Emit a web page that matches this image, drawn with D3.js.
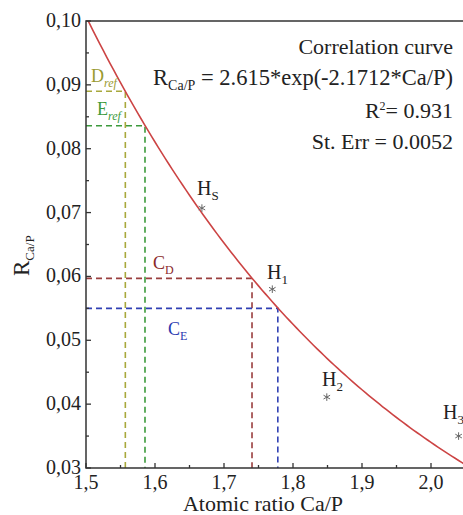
<!DOCTYPE html>
<html><head><meta charset="utf-8">
<script src="https://cdn.jsdelivr.net/npm/d3@7"></script>
<style>body{margin:0;background:#fff}svg{display:block}</style>
</head><body><svg id="c" width="463" height="515" font-family="'Liberation Serif', 'DejaVu Serif', serif"></svg>
<script>
// Fit parameters
const fitA = 2.615, fitB = -2.1712;
// Sample points
const sampleNames = ["S", "1", "2", "3"];
const sampleX = [1.668, 1.770, 1.849, 2.040];
const sampleY = [0.0707, 0.0580, 0.0411, 0.0350];
// Reference lines (Ca/P, R)
const refMain = ["D", "E", "C", "C"];
const refSubs = ["ref", "ref", "D", "E"];
const refX = [1.557, 1.5855, 1.7406, 1.778];
const refY = [0.0890, 0.0836, 0.0597, 0.0550];
const refColors = ["#a8a83c", "#3c9a3c", "#9a3f3f", "#3040b4"];
// Ticks
const xTicks = [1.5, 1.6, 1.7, 1.8, 1.9, 2.0];
const xTickLabels = ["1,5", "1,6", "1,7", "1,8", "1,9", "2,0"];
const yTicks = [0.03, 0.04, 0.05, 0.06, 0.07, 0.08, 0.09, 0.10];
const yTickLabels = ["0,03", "0,04", "0,05", "0,06", "0,07", "0,08", "0,09", "0,10"];

const svg = d3.select("#c");
const L = 86, T = 21, B = 468;
const x = d3.scaleLinear().domain([1.5, 2.06]).range([L, L + 0.56 * 690]);
const y = d3.scaleLinear().domain([0.03, 0.10]).range([B, T]);
const R = x(2.06);

svg.append("clipPath").attr("id", "clip").append("rect").attr("x", L).attr("y", T).attr("width", R - L).attr("height", B - T);

// dashed reference lines
const gRef = svg.append("g").attr("clip-path", "url(#clip)");
refX.forEach((rx, i) => {
  gRef.append("path").attr("d", `M${x(1.5)},${y(refY[i])}H${x(rx)}V${y(0.03)}`)
    .attr("fill", "none").attr("stroke", refColors[i]).attr("stroke-width", 1.6).attr("stroke-dasharray", "6,4");
});

// curve
const xs = d3.range(1.5, 2.0601, 0.005);
svg.append("path").attr("clip-path", "url(#clip)")
  .datum(xs.map(v => [v, fitA * Math.exp(fitB * v)]))
  .attr("d", d3.line().x(d => x(d[0])).y(d => y(d[1])))
  .attr("fill", "none").attr("stroke", "#cc4444").attr("stroke-width", 1.6);

// axes frame
svg.append("path").attr("d", `M${R},${T}H${L}V${B}H${R}`).attr("fill", "none").attr("stroke", "#333").attr("stroke-width", 1.5);

// x ticks
const xMinor = d3.range(1.55, 2.06, 0.1);
const gx = svg.append("g");
xTicks.forEach(v => gx.append("line").attr("x1", x(v)).attr("x2", x(v)).attr("y1", B).attr("y2", B - 5).attr("stroke", "#333").attr("stroke-width", 1.3));
xMinor.forEach(v => gx.append("line").attr("x1", x(v)).attr("x2", x(v)).attr("y1", B).attr("y2", B - 3).attr("stroke", "#333").attr("stroke-width", 1.3));
xTicks.forEach((v, i) => gx.append("text").attr("x", x(v)).attr("y", 489).attr("text-anchor", "middle").attr("font-size", 20).attr("fill", "#222").text(xTickLabels[i]));

// y ticks
const yMinor = d3.range(0.035, 0.1, 0.01);
const gy = svg.append("g");
yTicks.forEach(v => gy.append("line").attr("x1", L).attr("x2", L + 5).attr("y1", y(v)).attr("y2", y(v)).attr("stroke", "#333").attr("stroke-width", 1.3));
yMinor.forEach(v => gy.append("line").attr("x1", L).attr("x2", L + 3).attr("y1", y(v)).attr("y2", y(v)).attr("stroke", "#333").attr("stroke-width", 1.3));
yTicks.forEach((v, i) => gy.append("text").attr("x", 81).attr("y", y(v) + 6).attr("text-anchor", "end").attr("font-size", 20).attr("fill", "#222").text(yTickLabels[i]));

// axis titles
svg.append("text").attr("x", 263).attr("y", 511).attr("text-anchor", "middle").attr("font-size", 22).attr("fill", "#222").text("Atomic ratio Ca/P");
const yt = svg.append("text").attr("transform", "translate(29,276) rotate(-90)").attr("font-size", 23).attr("fill", "#222");
yt.append("tspan").text("R");
yt.append("tspan").attr("font-size", 13).attr("dy", 5).text("Ca/P");

// sample points
const sym = d3.symbol().type(d3.symbolAsterisk || d3.symbolCross).size(40);
sampleX.forEach((sx, i) => {
  svg.append("path").attr("d", sym()).attr("transform", `translate(${x(sx)},${y(sampleY[i])})`)
    .attr("fill", "none").attr("stroke", "#666").attr("stroke-width", 1);
});
const hLabelPos = [[197, 195], [267, 279], [322, 386], [443, 419]];
sampleNames.forEach((n, i) => {
  const t = svg.append("text").attr("x", hLabelPos[i][0]).attr("y", hLabelPos[i][1]).attr("font-size", 20).attr("fill", "#222");
  t.append("tspan").text("H");
  t.append("tspan").attr("font-size", 13).attr("dy", 5).text(n);
});

// reference labels
const refLabelPos = [[91, 82], [97, 115], [153, 269], [168, 335]];
const refTextColors = ["#9a9a30", "#3c9a3c", "#8a2a2a", "#2a3ab0"];
refMain.forEach((n, i) => {
  const t = svg.append("text").attr("x", refLabelPos[i][0]).attr("y", refLabelPos[i][1]).attr("font-size", 18).attr("fill", refTextColors[i]);
  t.append("tspan").text(n);
  const s = t.append("tspan").attr("font-size", 12).attr("dy", 5).text(refSubs[i]);
  if (refSubs[i] === "ref") s.attr("font-style", "italic");
});

// annotation
const ax = 453;
svg.append("text").attr("x", ax).attr("y", 54).attr("text-anchor", "end").attr("font-size", 22).attr("fill", "#222").text("Correlation curve");
const eq = svg.append("text").attr("x", ax).attr("y", 85).attr("text-anchor", "end").attr("font-size", 22.5).attr("fill", "#222");
eq.append("tspan").text("R");
eq.append("tspan").attr("font-size", 14).attr("dy", 5).text("Ca/P");
eq.append("tspan").attr("dy", -5).text(" = 2.615*exp(-2.1712*Ca/P)");
const r2 = svg.append("text").attr("x", ax).attr("y", 118).attr("text-anchor", "end").attr("font-size", 22).attr("fill", "#222");
r2.append("tspan").text("R");
r2.append("tspan").attr("font-size", 12).attr("dy", -8).text("2");
r2.append("tspan").attr("dy", 8).text("= 0.931");
svg.append("text").attr("x", ax).attr("y", 149).attr("text-anchor", "end").attr("font-size", 22).attr("fill", "#222").text("St. Err = 0.0052");
</script></body></html>
